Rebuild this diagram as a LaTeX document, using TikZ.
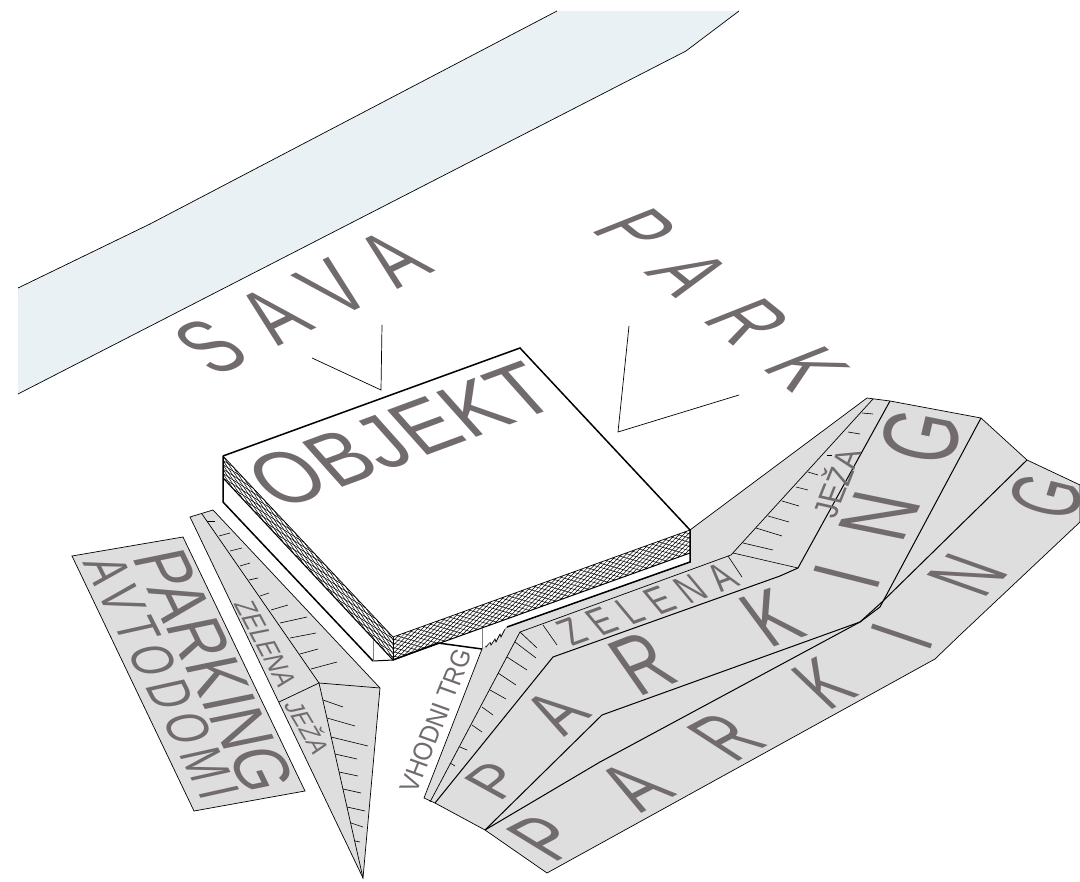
\documentclass[tikz,border=0pt]{standalone}
\usepackage{fontspec}
\setmainfont{Liberation Sans}
\usetikzlibrary{
    calc
}
\definecolor{rivercol}{HTML}{EAF1F5}
\definecolor{bandcol}{HTML}{DEDEDE}
\definecolor{txtcol}{HTML}{716B6E}
\tikzset{
    thin line/.style={line width=0.7pt, line join=miter},
    thick line/.style={line width=1.5pt, line join=miter},
    tick line/.style={line width=0.6pt},
    mesh line/.style={line width=0.5pt},
    lettering/.style={
        anchor=base west,
        inner sep=0pt,
        transform shape,
        text=txtcol,
        font=\fontsize{10}{12}\selectfont
    },
    bandletter/.style={lettering, anchor=base}
}

\begin{document}
\begin{tikzpicture}[x=1pt, y=-1pt]

    \useasboundingbox (0,0) rectangle (1080,882);

    % River
    \fill[rivercol] (18,288) -- (150,224) -- (557,11) -- (739,11) -- (686,51) -- (18,394) -- cycle;
    \draw[thin line] (18,288) -- (150,224) -- (557,11);
    \draw[thin line] (739,11) -- (686,51) -- (18,394);

    % Pointers
    \draw[thin line] (312,358) -- (381,390) -- (382,325);
    \draw[thin line] (629,326) -- (618,432) -- (739,395);

    % Left parking
    \draw[thin line, fill=bandcol] (72,556) -- (183,537) -- (305,791) -- (194,811) -- cycle;

    % Left green strip
    \draw[thin line, fill=bandcol] (190,517) -- (213,510) -- (380,688) -- (363,878) -- cycle;
    \draw[thin line] (202,514) -- (319,683) -- (363,878);
    \draw[thin line] (380,688) -- (319,683) -- (279,702);
    \foreach \xa/\ya/\xb/\yb in {
        207/521/215/521, 219/536/230/533, 230/551/242/548, 240/566/250/563,
        249/580/258/578, 260/596/269/593, 271/610/288/605, 280/623/307/617,
        290/638/316/633, 300/654/318/649, 311/669/337/662, 323/700/343/707,
        327/718/355/726, 331/737/368/746, 335/754/357/759, 339/772/358/776,
        343/789/361/793, 347/807/365/811, 351/823/363/827, 355/841/360/842}
        \draw[tick line] (\xa,\ya) -- (\xb,\yb);

    % Right parking
    \draw[thin line, fill=bandcol] (424,798) -- (482,649) -- (485,644) -- (486,647) -- (490,642) -- (491,645)
        -- (495,639) -- (496,642) -- (500,634) -- (501,637) -- (505,629) -- (507,627) -- (690,562)
        -- (690,530) -- (867,398) -- (890,401) -- (981,418) -- (1027,460) -- (1080,485) -- (1080,522)
        -- (960,635) -- (935,659) -- (547,873) -- (485,830) -- (435,803) -- cycle;
    \draw[thin line] (430,802) -- (520,632) -- (731,555) -- (873,399);
    \draw[line width=1pt] (435,803) -- (553,657) -- (780,576) -- (798,568) -- (890,401);
    \draw[line width=1pt] (485,830) -- (602,715) -- (860,622) -- (880,607) -- (981,418);
    \draw[line width=1pt] (485,830) -- (600,762) -- (860,622) -- (882,602) -- (1027,460);
    \foreach \xa/\ya/\xb/\yb in {
        450/763/455/766, 460/747/467/750, 472/725/482/732, 482/707/493/715,
        490/690/506/699, 498/673/516/685, 507/657/527/670, 515/642/536/658,
        520/632/537/648, 543/625/557/645, 728/556/742/577, 733/553/798/568,
        743/543/773/550, 756/528/782/536, 768/516/789/522, 782/501/799/506,
        796/487/808/490, 808/472/818/475, 827/455/832/455, 848/432/860/434,
        862/413/873/414}
        \draw[tick line] (\xa,\ya) -- (\xb,\yb);

    % Building
    \coordinate (topl) at (223,456);
    \coordinate (topb) at (520,348);
    \coordinate (topr) at (690,530);
    \coordinate (topf) at (393,637);
    \coordinate (lowl) at (223,478);
    \coordinate (lowf) at (393,660);
    \coordinate (lowr) at (690,553);
    \fill[white] (topl) -- (topb) -- (topr) -- (690,562) -- (507,627) -- (482,649) -- (438,643) -- (lowf)
        -- (373,661) -- (223,502) -- cycle;

    % Mesh on the side faces
    \begin{scope}
        \clip (topl) -- (topf) -- (lowf) -- (lowl) -- cycle;
        \foreach \t in {-0.3,-0.24,...,1.0} {
            \draw[mesh line] ($(topl)!\t!(topf)$) -- ($(lowl)!\t+0.3!(lowf)$);
            \draw[mesh line] ($(topl)!\t+0.3!(topf)$) -- ($(lowl)!\t!(lowf)$);
        }
    \end{scope}
    \begin{scope}
        \clip (topf) -- (topr) -- (lowr) -- (lowf) -- cycle;
        \foreach \t in {-0.12,-0.098,...,1.0} {
            \draw[mesh line] ($(topf)!\t!(topr)$) -- ($(lowf)!\t+0.12!(lowr)$);
            \draw[mesh line] ($(topf)!\t+0.12!(topr)$) -- ($(lowf)!\t!(lowr)$);
        }
    \end{scope}

    \draw[thick line] (topl) -- (topb) -- (topr) -- (690,562) -- (507,627);
    \draw[thick line] (lowl) -- (topl) -- (223,502) -- (373,661);
    \draw[thin line] (topl) -- (topf) -- (topr);
    \draw[line width=1pt] (lowl) -- (lowf) -- (lowr);
    \draw[line width=1pt] (topf) -- (lowf);
    \draw[thick line] (lowf) -- (438,643) -- (482,649);
    \draw[line width=1pt] (373,661) -- (lowf);
    \draw[line width=1pt, gray] (373,640) -- (373,661);
    \draw[line width=1pt, gray] (482,628) -- (482,649);

    % Large labels
    \node[lettering, shift={(214,378)}, cm={5.8,2.8,-7,6.2,(0,0)}] (sava) {\addfontfeature{LetterSpace=43}SAVA};
    \node[lettering, shift={(589,229)}, cm={4.9,-3.95,8.8,3.49,(0,0)}] (park) {\addfontfeature{LetterSpace=50}PARK};
    \node[lettering, shift={(278,511)}, cm={7.3,2.7,-5.8,6.5,(0,0)}] (objekt) {OBJEKT};
    \node[lettering, shift={(131,555)}, cm={2.61,-5.4,7.3,1.5,(0,0)}] (parkavto) {PARKING};
    \node[lettering, shift={(82,562)}, cm={1.85,-3.67,5.6,1.25,(0,0)}] (avtodomi) {\addfontfeature{LetterSpace=18}AVTODOMI};

    % Small labels
    \node[lettering, shift={(572,647)}, cm={3.0,1.09,-2.8,3.35,(0,0)}] (zelenar) {\addfontfeature{LetterSpace=35}ZELENA};
    \node[lettering, shift={(835,520)}, cm={1.1,2.75,-3.3,0.75,(0,0)}] (jezar) {JEŽA};
    \node[lettering, shift={(233,603)}, cm={1.16,-2.18,2.8,0.56,(0,0)}] (zelenal) {ZELENA};
    \node[lettering, shift={(283,704)}, cm={1.22,-2.06,2.5,0.56,(0,0)}] (jezal) {JEŽA};
    \node[lettering, shift={(416,795)}, cm={0.9,2.25,-2.5,0.9,(0,0)}] (vhodni) {VHODNI TRG};

    % Band letters, one by one: position / baseline / up
    \foreach \x/\y/\bx/\by/\ux/\uy/\c in {
        514/791/26/-20/-40/-22/P,
        579/726/26/-20/-47/-29/A,
        660/689/36/-14/-37/-53/R,
        790/642/36/-12/-37/-50/K,
        879/585/12/-33/-67/-17/I,
        912/523/18/-36/-68/-14/N,
        957/444/9/-38/-75/-15/G} {
        \pgfmathsetmacro\ma{\bx/6}
        \pgfmathsetmacro\mb{-\by/6}
        \pgfmathsetmacro\mc{\ux/7.16}
        \pgfmathsetmacro\md{-\uy/7.16}
        \node[bandletter, shift={(\x,\y)}, cm={\ma,\mb,\mc,\md,(0,0)}] (pa\c) {\c};
    }
    \foreach \x/\y/\bx/\by/\ux/\uy/\c in {
        572/854/33/-17/-54/-33/P,
        660/804/33/-17/-53/-36/A,
        753/754/30/-16/-54/-35/R,
        845/703/29/-15/-43/-41/K,
        932/647/10/-30/-62/-21/I,
        997/586/23/-23/-62/-22/N,
        1079/505/9/-29/-68/-17/G} {
        \pgfmathsetmacro\ma{\bx/6}
        \pgfmathsetmacro\mb{-\by/6}
        \pgfmathsetmacro\mc{\ux/7.16}
        \pgfmathsetmacro\md{-\uy/7.16}
        \node[bandletter, shift={(\x,\y)}, cm={\ma,\mb,\mc,\md,(0,0)}] (pb\c) {\c};
    }

\end{tikzpicture}
\end{document}
